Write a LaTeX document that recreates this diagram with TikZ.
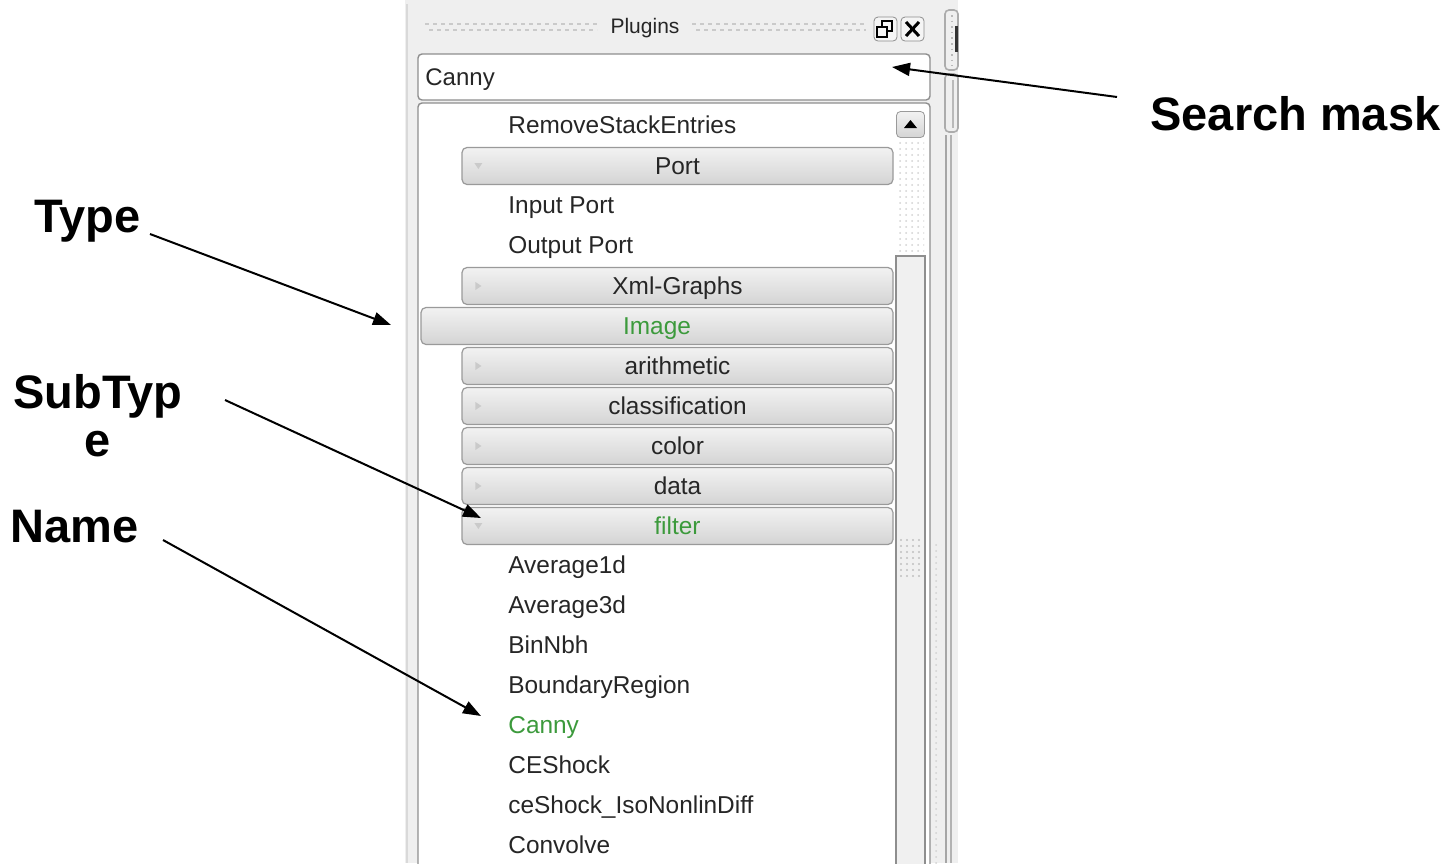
\documentclass[tikz,border=0pt]{standalone}
\usepackage{fontspec}
\setmainfont{Liberation Sans}
\usetikzlibrary{arrows.meta,patterns}

\definecolor{uitext}{HTML}{262626}
\definecolor{uigreen}{HTML}{3C9A3C}
\definecolor{panelbg}{HTML}{EFEFEF}
\definecolor{framec}{HTML}{8E8E8E}
\definecolor{hdrtop}{HTML}{F2F2F2}
\definecolor{hdrbot}{HTML}{D4D4D4}
\definecolor{hdrline}{HTML}{9A9A9A}
\definecolor{gripc}{HTML}{CACACA}

\newcommand{\uifont}{\fontsize{12.2}{14}\selectfont}
\newcommand{\lblfont}{\bfseries\fontsize{23.5}{23}\selectfont}

\tikzset{
  item/.style={anchor=base west, inner sep=0pt, font=\uifont, text=uitext},
  hdr/.style={rectangle, rounded corners=2.5pt, draw=hdrline, line width=0.6pt,
    top color=hdrtop, bottom color=hdrbot, minimum height=18.5pt,
    minimum width=215.5pt, inner sep=0pt, font=\uifont, text=uitext,
    text height=8.6pt, text depth=0pt},
  wide/.style={minimum width=236pt},
  lbl/.style={inner sep=0pt, font=\lblfont, text=black},
  arr/.style={line width=1pt, -{Triangle[length=9pt, width=6.5pt]}},
  tri/.style={fill=gripc, draw=none},
  winbtn/.style={draw=framec, rounded corners=2pt, fill=gray!8,
    minimum width=11.5pt, minimum height=12pt, inner sep=0pt},
}

\begin{document}
\begin{tikzpicture}[x=0.5pt, y=-0.5pt]
\useasboundingbox (0,0) rectangle (1452,863);
\clip (0,0) rectangle (1452,863);
\fill[white] (0,0) rectangle (1452,863);

% dock panel background
\fill[panelbg] (405,0) rectangle (958,863);
\draw[gray!30, line width=0.8pt] (407,4) -- (407,863);

% title bar with grips
\foreach \gy/\ph in {24/0pt, 30/2pt} {
  \draw[gripc, line width=1pt, dash pattern=on 2pt off 2pt, dash phase=\ph] (425,\gy) -- (597,\gy);
  \draw[gripc, line width=1pt, dash pattern=on 2pt off 2pt, dash phase=\ph] (692,\gy) -- (866,\gy);
}
\node[inner sep=0pt, font=\fontsize{10.5}{12}\selectfont, text=uitext] (title) at (645,28) {Plugins};

% float and close buttons
\node[winbtn] (floatbtn) at (885.5,29) {};
\node[winbtn] (closebtn) at (912.5,29) {};
\draw[black, line width=1.1pt] (882,21) rectangle (892,31);
\fill[gray!8] (877,27) rectangle (887,37);
\draw[black, line width=1.1pt] (877,27) rectangle (887,37);
\draw[black, line width=1.5pt] (906,22) -- (919,36) (906,36) -- (919,22);

% search field
\node[draw=framec, fill=white, rounded corners=2pt, line width=0.7pt,
      minimum width=256pt, minimum height=23pt, inner sep=0pt] (search) at (674,77) {};
\node[item, font=\fontsize{12}{14}\selectfont] (searchtxt) at (425,85) {Canny};

% plugin list
\draw[framec, line width=0.7pt, fill=white, rounded corners=2pt] (418,103) rectangle (930,900);

% scroll bar
\node[draw=hdrline, rounded corners=2pt, top color=hdrtop, bottom color=hdrbot,
      minimum width=14pt, minimum height=13pt, inner sep=0pt] (upbtn) at (910.5,124.5) {};
\fill[black] (904,128) -- (917,128) -- (910.5,120) -- cycle;
\fill[pattern=dots, pattern color=gray!35] (897,140) rectangle (924,255);
\draw[framec, line width=0.7pt, fill=gray!12] (896,256) rectangle (925,900);
\foreach \gx in {901,907,913,919} \foreach \gy in {540,546,...,580}
  \fill[gray!50] (\gx,\gy) circle (0.6pt);

% neighbouring widget on the right
\fill[pattern=dots, pattern color=gray!35] (932,540) rectangle (941,863);
\draw[gray!70, line width=0.9pt] (946,135) -- (946,863);
\draw[gray!60, line width=0.9pt] (951,135) -- (951,863);
\draw[gray!65, line width=0.8pt, rounded corners=2pt] (945,10) rectangle (958,70);
\draw[gray!55, line width=0.8pt, dotted] (952,15) -- (952,66);
\fill[gray!40!black] (955,26) rectangle (958,52);
\draw[gray!65, line width=0.8pt, rounded corners=2pt] (945,74) rectangle (958,132);
\draw[gray!55, line width=0.8pt] (953,80) -- (953,128);

% list rows
\node[item] (rse) at (508,133) {RemoveStackEntries};
\node[hdr] (port) at (677.5,166) {Port};
\node[item] (inport) at (508,213) {Input Port};
\node[item] (outport) at (508,253) {Output Port};
\node[hdr] (xml) at (677.5,286) {Xml-Graphs};
\node[hdr, wide, text=uigreen] (image) at (657,326) {Image};
\node[hdr] (arith) at (677.5,366) {arithmetic};
\node[hdr] (classif) at (677.5,406) {classification};
\node[hdr] (color) at (677.5,446) {color};
\node[hdr] (data) at (677.5,486) {data};
\node[hdr, text=uigreen] (filter) at (677.5,526) {filter};
\node[item] (avg1) at (508,573) {Average1d};
\node[item] (avg3) at (508,613) {Average3d};
\node[item] (binnbh) at (508,653) {BinNbh};
\node[item] (bregion) at (508,693) {BoundaryRegion};
\node[item, text=uigreen] (canny) at (508,733) {Canny};
\node[item] (ceshock) at (508,773) {CEShock};
\node[item] (ceiso) at (508,813) {ceShock\_IsoNonlinDiff};
\node[item] (convolve) at (508,853) {Convolve};

% expand indicators on the group headers
\foreach \h in {xml,arith,classif,color,data} {
  \fill[tri] ([xshift=7pt,yshift=2pt]\h.west) -- ++(0,-4pt) -- ++(3pt,2pt) -- cycle;
}
\foreach \h in {port,filter} {
  \fill[tri] ([xshift=6.5pt,yshift=1.5pt]\h.west) -- ++(4pt,0) -- ++(-2pt,-3pt) -- cycle;
}

% annotation labels (a two-line node sits on the baseline of its last line)
\node[lbl, anchor=base west] (searchlbl) at (1150,130) {Search mask};
\node[lbl, anchor=base west] (typelbl) at (34,232) {Type};
\node[lbl, anchor=base, align=center] (sublbl) at (98,456) {SubTyp\\[0.8pt]e};
\node[lbl, anchor=base west] (namelbl) at (10,542) {Name};

% arrow anchors
\coordinate (searchfrom) at (1117,97);
\coordinate (searchtip) at (892,67);
\coordinate (typefrom) at (150,234);
\coordinate (typetip) at (391,325);
\coordinate (subfrom) at (225,400);
\coordinate (subtip) at (481,518);
\coordinate (namefrom) at (163,540);
\coordinate (nametip) at (481,716);

\draw[arr] (searchfrom) -- (searchtip);
\draw[arr] (typefrom) -- (typetip);
\draw[arr] (subfrom) -- (subtip);
\draw[arr] (namefrom) -- (nametip);
\end{tikzpicture}
\end{document}
